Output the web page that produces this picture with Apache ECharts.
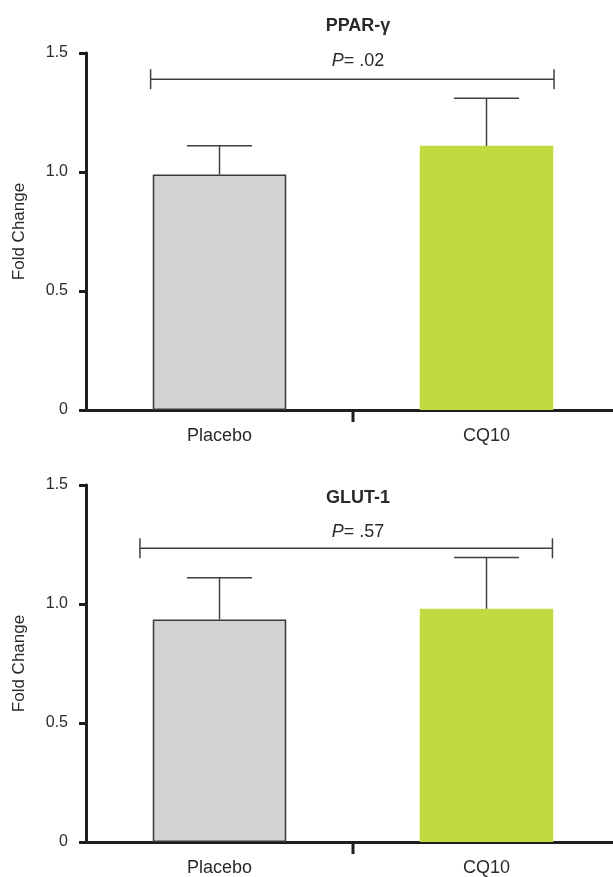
<!DOCTYPE html>
<html><head><meta charset="utf-8">
<script src="https://cdn.jsdelivr.net/npm/echarts@6/dist/echarts.min.js"></script>
<style>html,body{margin:0;padding:0;background:#fff}#c{width:613px;height:877px}</style>
</head><body><div id="c"></div>
<script>
// ---- data ----
const categories = ['Placebo', 'CQ10'];
const titles = ['PPAR-γ', 'GLUT-1'];
const pparMean = [0.99, 1.11];
const pparErr = [0.12, 0.20];
const glutMean = [0.935, 0.98];
const glutErr = [0.175, 0.215];
const pValues = ['.02', '.57'];
const bracketLevels = [1.39, 1.234];
const yTicks = [0, 0.5, 1.0, 1.5];
const yTickLabels = ['0', '0.5', '1.0', '1.5'];
const yAxisName = 'Fold Change';

// ---- styles ----
const FONT = '"Liberation Sans", Arial, Helvetica, sans-serif';
const AXIS = '#1e1e1e';
const INK = '#404040';
const TXT = '#2a2a2a';
const FILLS = ['#d1d2d4', '#c2d940'];
const BORDERS = ['#3a3a3a', '#c2d940'];

const chart = echarts.init(document.getElementById('c'), null, {renderer: 'canvas'});

function ln(x1, y1, x2, y2, w, c) {
  return {type: 'line', shape: {x1, y1, x2, y2}, style: {stroke: c || INK, lineWidth: w || 1.5}};
}
function errRender(params, api) {
  const i = api.value(0), m = api.value(1), e = api.value(2);
  const p0 = api.coord([i, m]);
  const p1 = api.coord([i, m + e]);
  const half = api.size([1, 0])[0] * 0.122;
  return {type: 'group', children: [
    ln(p0[0], p0[1], p1[0], p1[1]),
    ln(p1[0] - half, p1[1], p1[0] + half, p1[1])
  ]};
}
function bracketRender(lf, rf) {
  return function (params, api) {
    const y = api.value(1);
    const a = api.coord([0, y]), b = api.coord([1, y]);
    const band = api.size([1, 0])[0];
    const xl = a[0] - band * lf, xr = b[0] + band * rf;
    return {type: 'group', children: [
      ln(xl, a[1], xr, a[1]),
      ln(xl, a[1] - 10, xl, a[1] + 10),
      ln(xr, a[1] - 10, xr, a[1] + 10)
    ]};
  };
}
function dividerRender(params, api) {
  const a = api.coord([0, 0]);
  const band = api.size([1, 0])[0];
  const x = a[0] + band / 2;
  return ln(x, a[1], x, a[1] + 12, 3, AXIS);
}

const means = [pparMean, glutMean];
const errs = [pparErr, glutErr];
const grids = [
  {left: 86, top: 53, width: 534, height: 357, outerBoundsMode: 'none', containLabel: false},
  {left: 86, top: 485, width: 534, height: 357, outerBoundsMode: 'none', containLabel: false}
];

const xAxis = [], yAxis = [], series = [];
grids.forEach((g, k) => {
  xAxis.push({
    type: 'category', gridIndex: k, data: categories,
    axisLine: {lineStyle: {color: AXIS, width: 3}},
    axisTick: {show: false},
    axisLabel: {color: TXT, fontFamily: FONT, fontSize: 18, margin: 17}
  });
  yAxis.push({
    type: 'value', gridIndex: k, min: 0, max: 1.5, interval: 0.5,
    name: yAxisName, nameLocation: 'middle', nameGap: 58, nameRotate: 90,
    nameTextStyle: {color: TXT, fontFamily: FONT, fontSize: 17},
    axisLine: {show: true, lineStyle: {color: AXIS, width: 3}},
    axisTick: {show: true, length: 7, lineStyle: {color: AXIS, width: 3}},
    splitLine: {show: false},
    axisLabel: {
      color: TXT, fontFamily: FONT, fontSize: 16, margin: 18,
      formatter: v => {
        const idx = yTicks.findIndex(t => Math.abs(t - v) < 1e-9);
        return idx >= 0 ? yTickLabels[idx] : String(v);
      }
    }
  });
  series.push({
    type: 'bar', xAxisIndex: k, yAxisIndex: k, barWidth: '50%',
    data: means[k].map((v, i) => ({
      value: v,
      itemStyle: {color: FILLS[i], borderColor: BORDERS[i], borderWidth: i === 0 ? 1.5 : 0}
    })),
    z: 2
  });
  series.push({
    type: 'custom', xAxisIndex: k, yAxisIndex: k, z: 3,
    renderItem: errRender,
    data: means[k].map((v, i) => [i, v, errs[k][i]])
  });
  series.push({
    type: 'custom', xAxisIndex: k, yAxisIndex: k, z: 3,
    renderItem: k === 0 ? bracketRender(0.258, 0.253) : bracketRender(0.298, 0.247),
    data: [[0, bracketLevels[k]]]
  });
  series.push({
    type: 'custom', xAxisIndex: k, yAxisIndex: k, z: 4,
    renderItem: dividerRender,
    data: [[0, 0]]
  });
});

const titleTops = [12, 484];
const pTops = [47, 518];
const title = [];
titles.forEach((t, k) => {
  title.push({
    text: t, left: 353, top: titleTops[k], textAlign: 'center',
    textStyle: {color: TXT, fontFamily: FONT, fontSize: 18, fontWeight: 'bold'}
  });
  title.push({
    text: '{i|P}{n|= ' + pValues[k] + '}', left: 353, top: pTops[k], textAlign: 'center',
    textStyle: {
      fontFamily: FONT, fontSize: 18, color: TXT, fontWeight: 'normal',
      rich: {
        i: {fontFamily: FONT, fontSize: 18, fontStyle: 'italic', fontWeight: 'normal', color: TXT},
        n: {fontFamily: FONT, fontSize: 18, fontWeight: 'normal', color: TXT}
      }
    }
  });
});

chart.setOption({
  backgroundColor: '#ffffff',
  animation: false,
  title,
  grid: grids,
  xAxis, yAxis, series
});
</script></body></html>
